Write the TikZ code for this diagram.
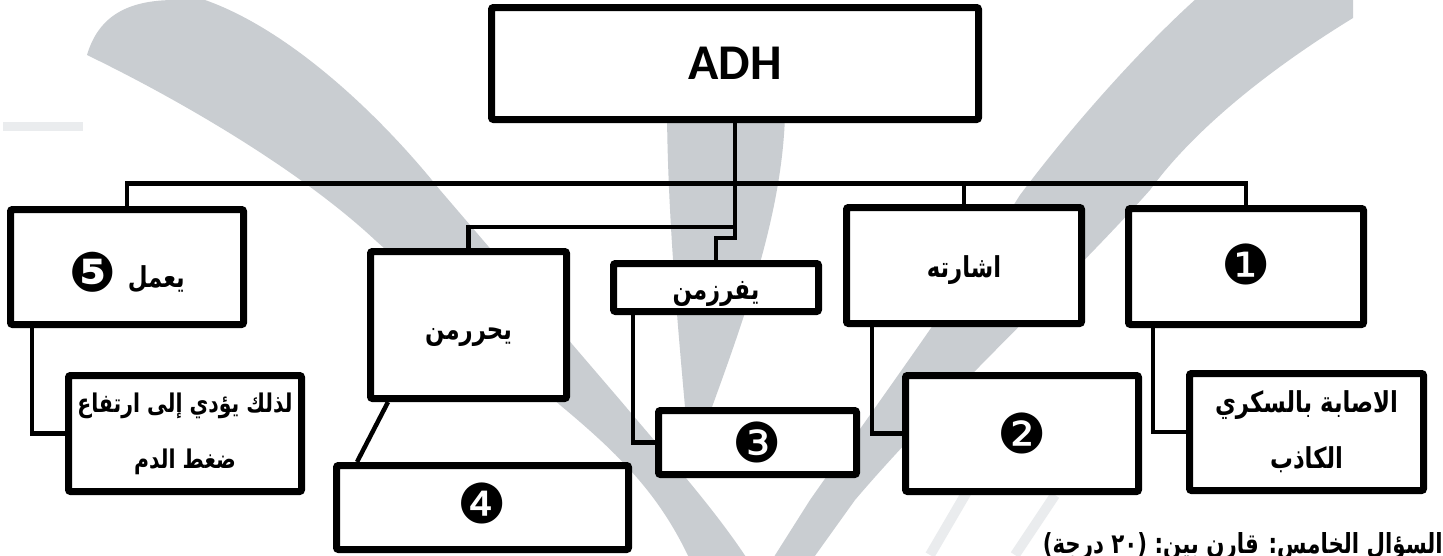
\documentclass[tikz,border=0pt]{standalone}
\usepackage{fontspec}
\usetikzlibrary{shadows,calc}
\TeXXeTstate=1
\newfontfamily\arabicfont[Script=Arabic]{DejaVu Sans}
\newfontfamily\dejavu{DejaVu Sans}
\newfontfamily\carlito{Carlito}
\definecolor{wmgray}{RGB}{201,205,209}
\definecolor{wmlight}{RGB}{234,236,238}
\pgfdeclarelayer{wm}
\pgfdeclarelayer{conns}
\pgfsetlayers{wm,conns,main}
\newcommand\numf{\dejavu\fontsize{55}{55}\selectfont}
% Arabic text, stretched a little upright, optionally lowered
\newcommand\art[2][0pt]{\raisebox{#1}[\height][\depth]{\scalebox{0.95}[1.2]{\beginR #2\endR}}}
\newcommand\mov[2]{\raisebox{#1}[\height][\depth]{#2}}
\begin{document}
\begin{tikzpicture}[x=1pt,y=-1pt,
  box/.style={draw=black, line width=7pt, fill=white, rounded corners=2pt, inner sep=0pt,
    drop shadow={shadow xshift=2.5pt, shadow yshift=-2.5pt, opacity=0.35}},
  conn/.style={draw=black, line width=4.5pt},
  ar/.style={font=\arabicfont\bfseries\fontsize{24}{56}\selectfont, align=center},
  numbox/.style={font=\numf}]
\useasboundingbox (0,0) rectangle (1443,555);
\clip (0,0) rectangle (1443,555);

% ---------- boxes ----------
\node[box, minimum width=487pt, minimum height=112pt, font=\carlito\bfseries\fontsize{50}{50}\selectfont] (adh) at (735,63.5) {ADH};
\node[box, ar, minimum width=233pt, minimum height=115pt] (b5) at (127,267) {\mov{-7pt}{\numf ❺}\hspace{12pt}\art[-3pt]{يعمل}};
\node[box, ar, font=\arabicfont\bfseries\fontsize{21.5}{56}\selectfont, minimum width=233pt, minimum height=116pt] (b5b) at (185,433.5) {\art{لذلك يؤدي إلى ارتفاع}\\\art{ضغط الدم}};
\node[box, ar, minimum width=196pt, minimum height=147pt] (bh) at (468.5,325) {\art[-12pt]{يحررمن}};
\node[box, numbox, minimum width=292pt, minimum height=84pt] (b4) at (482.5,507.5) {\mov{4pt}{❹}};
\node[box, ar, minimum width=205pt, minimum height=48pt] (bf) at (716,287.5) {\art[-6pt]{يفرزمن}};
\node[box, numbox, minimum width=198pt, minimum height=64pt] (b3) at (757.5,442.5) {❸};
\node[box, ar, minimum width=235pt, minimum height=116pt] (bi) at (964,265.5) {\art[-5pt]{اشارته}};
\node[box, numbox, minimum width=233pt, minimum height=116pt] (b2) at (1022,433.5) {❷};
\node[box, numbox, minimum width=235pt, minimum height=116pt] (b1) at (1246,266.5) {\mov{2pt}{❶}};
\node[box, ar, minimum width=234pt, minimum height=117pt] (bd) at (1306.5,432) {\art{الاصابة بالسكري}\\\art{الكاذب}};

% ---------- bottom text ----------
\node[anchor=base east, inner sep=0pt] (q) at (1443,553) {\resizebox{400pt}{21pt}{{\bfseries\dejavu (}{\arabicfont\bfseries\beginR درجة\endR}{\bfseries\dejavu\ ٢٠)\ }{\arabicfont\bfseries\beginR السؤال الخامس: قارن بين:\endR}}};

% ---------- connectors ----------
\coordinate (bus) at (0,183.5);
\coordinate (j1) at (0,227);
\coordinate (j2) at (0,238);
\begin{pgfonlayer}{conns}
\draw[conn] (b5.north) -- (b5.north |- bus) -| (b1.north);
\draw[conn] (bi.north) -- (bi.north |- bus);
\draw[conn] (adh.south) -- (adh.south |- j2) -| (bf.north);
\draw[conn] (adh.south |- j1) -| (bh.north);
\draw[conn] ([xshift=25pt]b5.south west) |- (b5b.west);
\draw[conn] ([xshift=29pt]bi.south west) |- (b2.west);
\draw[conn] ([xshift=28pt]b1.south west) |- (bd.west);
\draw[conn] ([xshift=23pt]bf.south west) |- (b3.west);
\draw[conn] ([xshift=21pt]bh.south west) -- ([xshift=24pt]b4.north west);
\end{pgfonlayer}

% ---------- watermark ----------
\begin{pgfonlayer}{wm}
\clip (0,0) rectangle (1443,555);
\fill[white] (0,0) rectangle (1443,555);
\fill[wmgray] (87,55) .. controls (98,18) and (125,0) .. (175,0) -- (205,0)
  .. controls (290,30) and (380,115) .. (440,190)
  -- (620,400) .. controls (675,465) and (715,510) .. (748,560) -- (690,560)
  .. controls (660,495) and (620,455) .. (560,405)
  -- (375,240) .. controls (300,170) and (180,100) .. (87,55) -- cycle;
\fill[wmgray] (1197,-2) -- (1353,-2) -- (1353,18)
  .. controls (1260,75) and (1190,135) .. (1150,190)
  .. controls (1070,280) and (940,400) .. (855,500) -- (812,560) -- (772,560) -- (810,500)
  .. controls (880,400) and (960,290) .. (1020,195)
  .. controls (1080,115) and (1150,40) .. (1197,-2) -- cycle;
\fill[wmgray] (667,115) -- (785,115) .. controls (782,220) and (740,330) .. (700,440) -- (688,440)
  .. controls (678,330) and (668,220) .. (667,115) -- cycle;
\fill[wmlight] (3,122) rectangle (83,131);
\draw[wmlight, line width=10pt] (975,478) -- (930,555);
\draw[wmlight, line width=10pt] (1055,495) -- (1015,555);
\end{pgfonlayer}
\end{tikzpicture}
\end{document}
